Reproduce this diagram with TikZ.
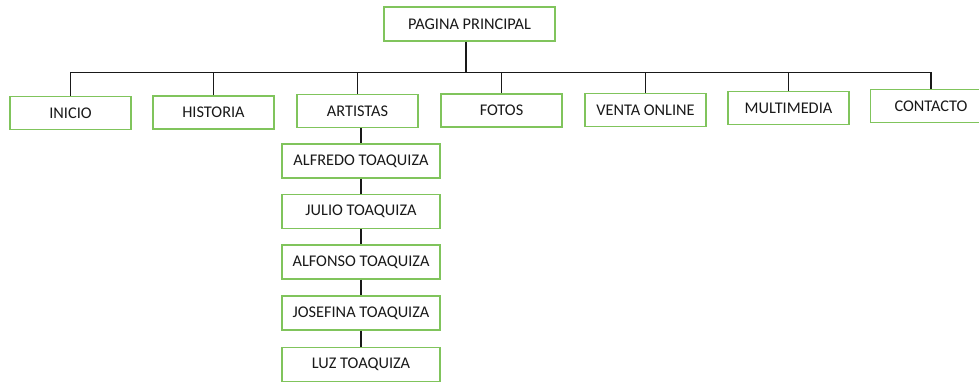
\documentclass[tikz,border=0pt]{standalone}
\usepackage{fontspec}
\setmainfont{Carlito}
\usetikzlibrary{calc}
\usetikzlibrary{positioning}
\definecolor{boxgreen}{RGB}{128,196,92}
\tikzset{
  menubox/.style={draw=boxgreen, line width=0.8pt, fill=white, text=black!90, font=\fontsize{11.6}{13}\selectfont, minimum width=3.025cm, minimum height=0.825cm, inner sep=1pt},
  topbox/.style={menubox, minimum width=4.275cm, minimum height=0.85cm},
  namebox/.style={menubox, minimum width=3.95cm, minimum height=0.85cm},
  link/.style={draw=black!90, line width=0.75pt}
}

\begin{document}
\begin{tikzpicture}[x=0.025cm, y=-0.025cm]
\useasboundingbox (0,0) rectangle (979,382);
\node[topbox] (pagina) at (469.5,24) {PAGINA PRINCIPAL};
\coordinate (bus) at (466,72.5);
\node[menubox] (inicio) at (70.5,113) {INICIO};
\node[menubox] (historia) at (213.5,112.5) {HISTORIA};
\node[menubox] (artistas) at (357.5,111) {ARTISTAS};
\node[menubox] (fotos) at (501.5,110.5) {FOTOS};
\node[menubox] (venta) at (645.5,110) {VENTA ONLINE};
\node[menubox] (multimedia) at (788.5,108) {MULTIMEDIA};
\node[menubox] (contacto) at (931,106) {CONTACTO};
\node[namebox] (alfredo) at (361,161) {ALFREDO TOAQUIZA};
\node[namebox] (julio) at (361,211.5) {JULIO TOAQUIZA};
\node[namebox] (alfonso) at (361,262) {ALFONSO TOAQUIZA};
\node[namebox] (josefina) at (361,313) {JOSEFINA TOAQUIZA};
\node[namebox] (luz) at (361,364.5) {LUZ TOAQUIZA};

\draw[link] (pagina.south -| bus) -- (bus);
\draw[link] (inicio.north) |- (bus) -| (contacto.north);
\foreach \n in {historia,artistas,fotos,venta,multimedia}
  \draw[link] (\n.north) -- (\n.north |- bus);
\draw[link] (alfredo.north |- artistas.south) -- (alfredo.north);
\foreach \a/\b in {alfredo/julio,julio/alfonso,alfonso/josefina,josefina/luz}
  \draw[link] (\a.south) -- (\b.north);
\end{tikzpicture}
\end{document}
